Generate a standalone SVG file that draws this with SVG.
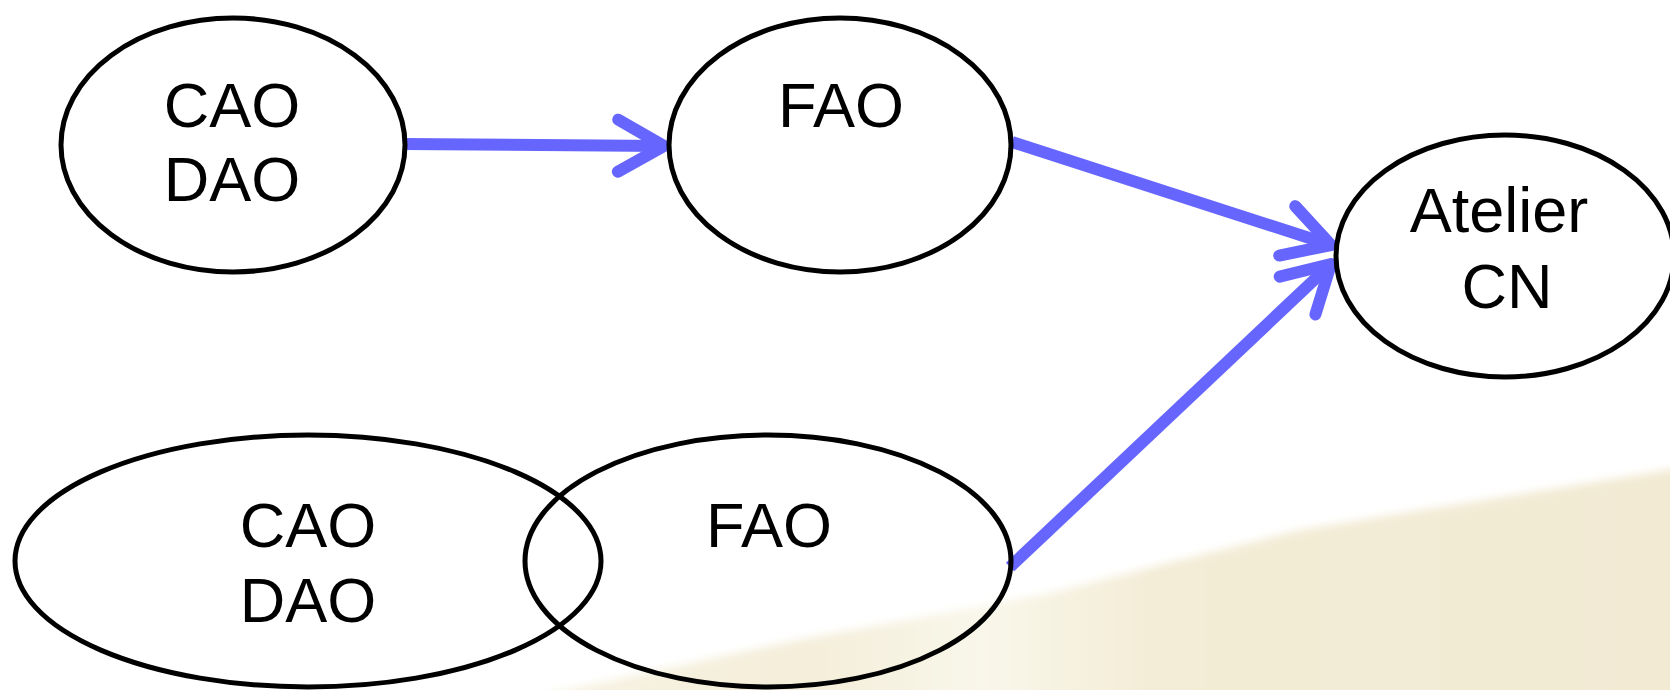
<svg xmlns="http://www.w3.org/2000/svg" width="1670" height="690" viewBox="0 0 1670 690">
  <style>
    .node ellipse { fill: none; stroke: #000; stroke-width: 5; }
    .node text { font-family: "Liberation Sans", Arial, sans-serif; font-size: 63px; fill: #000; text-anchor: middle; }
    .edge { stroke: #6666FF; stroke-width: 12; fill: none; marker-end: url(#arrow); }
  </style>
  <defs>
    <marker id="arrow" markerUnits="userSpaceOnUse" viewBox="-60 -40 70 80" markerWidth="70" markerHeight="80" refX="0" refY="0" orient="auto" overflow="visible">
      <path d="M -46 -26 L 0 0 L -46 26" fill="none" stroke="#6666FF" stroke-width="12" stroke-linecap="round" stroke-linejoin="round"/>
    </marker>
    <linearGradient id="beige" x1="0" y1="0" x2="1" y2="0">
      <stop offset="0" stop-color="#F7F3E4"/>
      <stop offset="0.25" stop-color="#F4EEDA"/>
      <stop offset="0.4" stop-color="#F9F7EA"/>
      <stop offset="0.55" stop-color="#F3ECD6"/>
      <stop offset="1" stop-color="#F2EAD3"/>
    </linearGradient>
    <filter id="soft" x="-5%" y="-5%" width="110%" height="110%">
      <feGaussianBlur stdDeviation="4"/>
    </filter>
  </defs>
  <rect width="1670" height="690" fill="#FFFFFF"/>
  <path d="M 520 700 L 783 643 L 1050 593 L 1300 530 L 1680 468 L 1680 700 Z" fill="url(#beige)" filter="url(#soft)"/>

  <g id="connectors">
    <line class="edge" x1="403" y1="144" x2="664" y2="146"/>
    <line class="edge" x1="1012" y1="142" x2="1331" y2="245"/>
    <line class="edge" x1="1010" y1="567" x2="1331" y2="264"/>
  </g>

  <g id="node-cao-dao-top" class="node">
    <ellipse cx="233" cy="145" rx="172" ry="127"/>
    <text x="232" y="127">CAO</text>
    <text x="232" y="201">DAO</text>
  </g>
  <g id="node-fao-top" class="node">
    <ellipse cx="840" cy="145" rx="171" ry="127"/>
    <text x="841" y="127">FAO</text>
  </g>
  <g id="node-atelier" class="node">
    <ellipse cx="1505" cy="256" rx="169" ry="121"/>
    <text x="1499" y="232">Atelier</text>
    <text x="1507" y="308">CN</text>
  </g>
  <g id="node-cao-dao-bottom" class="node">
    <ellipse cx="308" cy="561" rx="293" ry="126"/>
    <text x="308" y="547">CAO</text>
    <text x="308" y="622">DAO</text>
  </g>
  <g id="node-fao-bottom" class="node">
    <ellipse cx="768" cy="561" rx="243" ry="126"/>
    <text x="769" y="547">FAO</text>
  </g>
</svg>
